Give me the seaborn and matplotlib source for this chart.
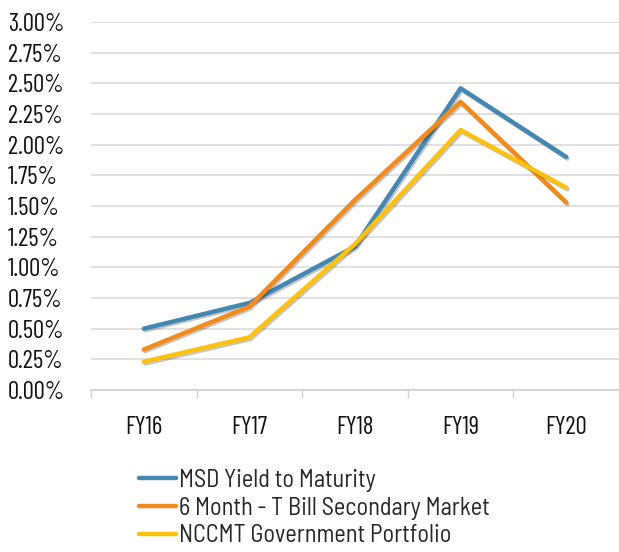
import matplotlib
matplotlib.use("Agg")
import matplotlib.pyplot as plt
import matplotlib.patheffects as pe
from matplotlib.ticker import FuncFormatter, MultipleLocator, FixedLocator
import pandas as pd
import seaborn as sns

# --- data ---
years = ["FY16", "FY17", "FY18", "FY19", "FY20"]
msd_ytm = [0.50, 0.71, 1.17, 2.46, 1.90]
tbill_6m = [0.33, 0.68, 1.55, 2.35, 1.53]
nccmt_gov = [0.23, 0.43, 1.19, 2.12, 1.65]
series_names = ["MSD Yield to Maturity", "6 Month - T Bill Secondary Market",
                "NCCMT Government Portfolio"]
colors = ["#4387B3", "#F28B1C", "#FDC10E"]

df = pd.DataFrame({"year": years * 3,
                   "rate": msd_ytm + tbill_6m + nccmt_gov,
                   "series": [s for s in series_names for _ in years]})

sns.set_theme(style="white")
plt.rcParams["font.family"] = ["Barlow Semi Condensed", "DejaVu Sans"]
tick_font = ["Barlow Condensed", "DejaVu Sans"]

fig = plt.figure(figsize=(6.19, 5.52), dpi=100)
ax = fig.add_axes([0.147, 0.2935, 0.853, 0.6665])

sns.lineplot(data=df, x="year", y="rate", hue="series", palette=colors,
             linewidth=3.2, ax=ax, legend=False, sort=False)
for line in ax.get_lines():
    line.set_path_effects([pe.SimpleLineShadow(offset=(1, -1.2), alpha=0.25),
                           pe.Normal()])

ax.set_ylim(0, 3.0)
ax.set_xlim(-0.5, 4.5)
ax.yaxis.set_major_locator(MultipleLocator(0.25))
ax.yaxis.set_major_formatter(FuncFormatter(lambda v, _: f"{v:.2f}%"))
ax.grid(axis="y", color="#dcdcdc", linewidth=1.2)
ax.set_axisbelow(True)
ax.set_xlabel("")
ax.set_ylabel("")

for s in ["left", "right", "top"]:
    ax.spines[s].set_visible(False)
ax.spines["bottom"].set_color("#d0d0d0")
ax.spines["bottom"].set_linewidth(1.2)

ax.xaxis.set_minor_locator(FixedLocator([i - 0.5 for i in range(len(years) + 1)]))
ax.tick_params(axis="x", which="major", length=0, pad=19, labelsize=18, colors="#111111")
ax.tick_params(axis="x", which="minor", length=6, width=1, color="#d0d0d0", bottom=True)
ax.tick_params(axis="y", length=0, pad=60, labelsize=18, colors="#111111")
for lbl in ax.get_yticklabels():
    lbl.set_horizontalalignment("left")
    lbl.set_family(tick_font)
for lbl in ax.get_xticklabels():
    lbl.set_family(tick_font)

handles = [plt.Line2D([], [], color=c, linewidth=3.2) for c in colors]
fig.legend(handles, series_names, loc="upper left", bbox_to_anchor=(0.224, 0.151),
           frameon=False, fontsize=17.5, handlelength=1.55, handletextpad=0.1,
           labelspacing=0.2, borderaxespad=0, borderpad=0)

fig.savefig("out.png", dpi=100)
